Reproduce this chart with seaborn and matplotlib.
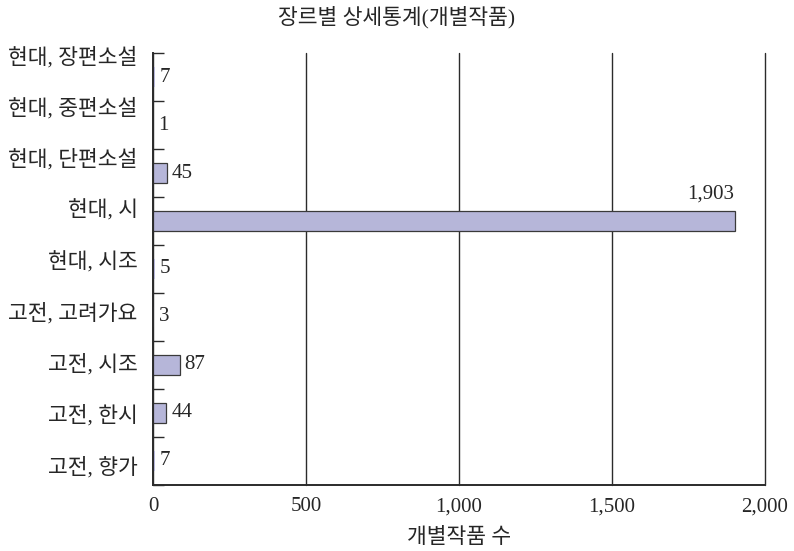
import numpy as np
import pandas as pd
import matplotlib
matplotlib.use("Agg")
import matplotlib.pyplot as plt
import seaborn as sns

# Genre breakdown of individual works
genres = ["현대, 장편소설", "현대, 중편소설", "현대, 단편소설", "현대, 시", "현대, 시조",
          "고전, 고려가요", "고전, 시조", "고전, 한시", "고전, 향가"]
counts = [7, 1, 45, 1903, 5, 3, 87, 44, 7]
x_ticks = [0, 500, 1000, 1500, 2000]
x_tick_labels = ["0", "500", "1,000", "1,500", "2,000"]
title = "장르별 상세통계(개별작품)"
x_title = "개별작품 수"

sns.set_style("white")
plt.rcParams["font.family"] = ["Liberation Serif", "Noto Sans CJK KR"]
plt.rcParams["axes.unicode_minus"] = False

df = pd.DataFrame({"genre": genres, "count": counts})

fig = plt.figure(figsize=(7.94, 5.51), dpi=100)
ax = fig.add_axes([0.1927, 0.1198, 0.9635 - 0.1927, 0.9038 - 0.1198])

sns.barplot(data=df, x="count", y="genre", orient="h", ax=ax,
            color="#b6b6d9", saturation=1, width=0.42,
            edgecolor="#3a3a3a", linewidth=0.9, zorder=3)

# very thin bars collapse into the axis line: drop their outline
for patch in ax.patches:
    if patch.get_width() < 20:
        patch.set_linewidth(0)

ax.set_xlim(0, 2000)
ax.set_ylim(len(genres) - 0.5, -0.5)

# vertical grid lines
ax.set_xticks(x_ticks, x_tick_labels, fontsize=15)
ax.grid(axis="x", color="#2b2b2b", linewidth=1.0, zorder=0)
for gl in ax.get_xgridlines():
    gl.set_clip_on(False)
ax.grid(axis="y", visible=False)
ax.tick_params(axis="x", length=0, pad=9)

# category boundary ticks on the value axis
ax.set_yticks(np.arange(len(genres) + 1) - 0.5, minor=True)
ax.tick_params(axis="y", which="minor", left=True, direction="in", length=8,
               width=1.0, color="#2b2b2b")
ax.set_yticks(np.linspace(-0.46, 8.08, len(genres)), genres, fontsize=15.5)
ax.tick_params(axis="y", which="major", left=False, length=0, pad=11)

for side in ["top", "right"]:
    ax.spines[side].set_visible(False)
for side in ["left", "bottom"]:
    ax.spines[side].set_color("#2b2b2b")
    ax.spines[side].set_linewidth(1.4)
    ax.spines[side].set_zorder(4)

ax.set_ylabel("")
ax.set_xlabel(x_title, fontsize=15.5, labelpad=8)

# value labels
for i, v in enumerate(counts):
    txt = f"{v:,}"
    if v > 1500:
        ax.annotate(txt, xy=(v, i - 0.21), xytext=(-1, 5), textcoords="offset points",
                    ha="right", va="bottom", fontsize=15)
    else:
        ax.annotate(txt, xy=(v, i), xytext=(3.5, 0), textcoords="offset points",
                    ha="left", va="center", fontsize=15)

fig.text(0.5, 1 - 17 / 551, title, ha="center", va="center", fontsize=15.5)

fig.savefig("out.png", dpi=100)
